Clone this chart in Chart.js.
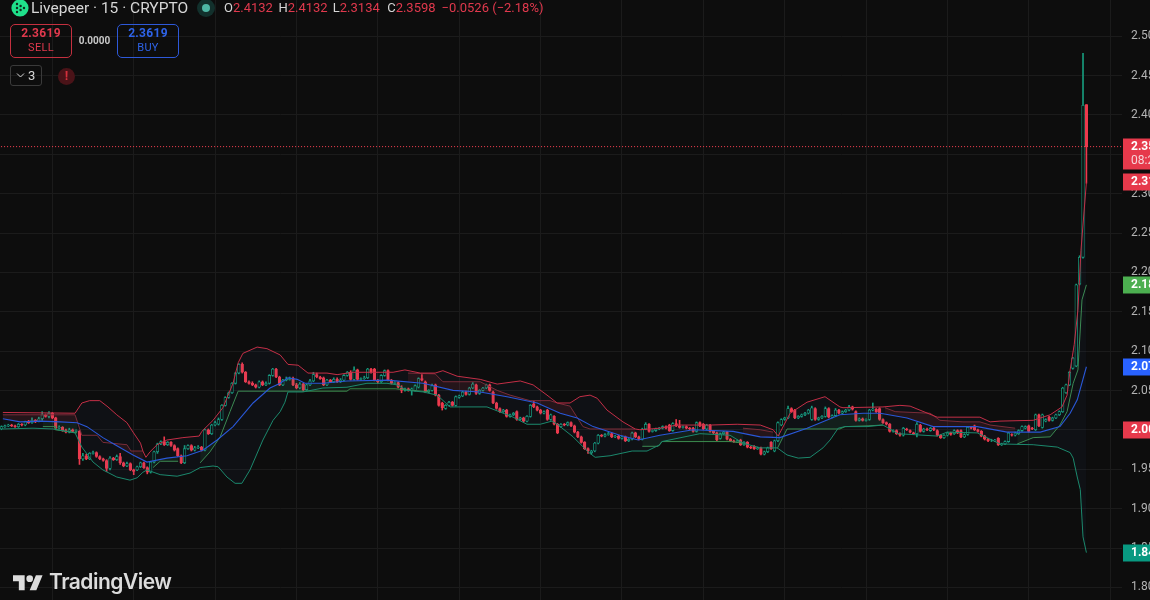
<!DOCTYPE html>
<html><head><meta charset="utf-8">
<script src="https://cdn.jsdelivr.net/npm/chart.js@4/dist/chart.umd.min.js"></script>
<style>
html,body{margin:0;padding:0;width:1150px;height:600px;overflow:hidden;background:#0d0d0d;}
#c{position:absolute;left:0;top:-10px;}
.o{position:absolute;white-space:nowrap;font-family:Roboto,sans-serif;}
.btn{box-sizing:border-box;border:1px solid;border-radius:5px;text-align:center;width:62px;height:34px;top:24px;}
.btn b{display:block;font-size:12px;line-height:13px;margin-top:2px;font-weight:700;letter-spacing:.3px}
.btn span{display:block;font-size:11px;line-height:15px;letter-spacing:.3px}
.g{display:inline-block;width:54.4px}
.r{color:#e0394d}
</style></head><body>
<canvas id="c" width="1150" height="610"></canvas>
<svg class="o" style="left:11px;top:-1px" width="18" height="18" viewBox="0 0 18 18"><circle cx="9" cy="9" r="8.6" fill="#1fe08a"/><g fill="#0f2b1e"><circle cx="6" cy="5" r="1.2"/><circle cx="6" cy="9" r="1.2"/><circle cx="6" cy="13" r="1.2"/><circle cx="9.6" cy="7" r="1.2"/><circle cx="9.6" cy="11" r="1.2"/><circle cx="13" cy="9" r="1.2"/></g></svg>
<div class="o" style="left:31px;top:-1px;font-size:15.5px;line-height:18px;color:#d6d6d6">Livepeer · 15 · CRYPTO</div>
<svg class="o" style="left:196px;top:-2px" width="20" height="20"><circle cx="10" cy="10" r="9" fill="#12302c"/><circle cx="10" cy="10" r="4" fill="#4db6a4"/></svg>
<div class="o" style="left:224px;top:0;font-size:13px;line-height:16px;color:#d6d6d6"><span class="g">O<span class="r">2.4132</span></span><span class="g">H<span class="r">2.4132</span></span><span class="g">L<span class="r">2.3134</span></span><span class="g">C<span class="r">2.3598</span></span><span class="r">−0.0526 (−2.18%)</span></div>
<div class="o btn" style="left:10px;border-color:#c4303f;color:#e0394d"><b>2.3619</b><span>SELL</span></div>
<div class="o" style="left:74px;top:35px;width:41px;text-align:center;font-size:10px;font-weight:700;line-height:12px;color:#c8c8c8">0.0000</div>
<div class="o btn" style="left:117px;border-color:#2e59d9;color:#2e63e8"><b>2.3619</b><span>BUY</span></div>
<div class="o" style="left:10px;top:65px;width:32px;height:21px;box-sizing:border-box;border:1px solid #3a3a3a;border-radius:3px;color:#d6d6d6;font-size:13px;line-height:19px;padding-left:17px">3<svg style="position:absolute;left:5px;top:6px" width="9" height="7"><path d="M1 1.5L4.5 5L8 1.5" stroke="#d6d6d6" fill="none"/></svg></div>
<div class="o" style="left:58px;top:68px;width:17px;height:17px;border-radius:50%;background:#4a1318;color:#d4303c;font-size:13px;font-weight:700;line-height:16px;text-align:center">!</div>
<svg class="o" style="left:13px;top:572px" width="30" height="20" viewBox="0 0 36 24"><path fill="#dcdcdc" d="M14 22H7V11H0V4h14v18zM28 22h-8l7.5-18h8L28 22z"/><circle cx="20" cy="8" r="4" fill="#dcdcdc"/></svg>
<div class="o" style="left:49px;top:569px;font-family:Inter,Roboto,sans-serif;font-size:21px;font-weight:600;line-height:26px;color:#dcdcdc;letter-spacing:-.5px">TradingView</div>
<script>
const opens=[
2.000,2.003,2.004,2.005,2.004,2.003,2.006,2.005,2.009,2.008,
2.011,2.010,2.013,2.018,2.016,2.020,2.014,2.001,2.002,1.998,
1.996,1.999,1.997,1.997,1.962,1.966,1.962,1.969,1.970,1.965,
1.962,1.960,1.950,1.963,1.961,1.965,1.957,1.953,1.956,1.948,
1.948,1.952,1.957,1.951,1.945,1.958,1.971,1.981,1.984,1.980,
1.983,1.979,1.975,1.966,1.957,1.975,1.979,1.973,1.976,1.977,
1.973,1.999,1.994,2.005,2.006,2.012,2.030,2.040,2.046,2.058,
2.071,2.082,2.072,2.060,2.058,2.056,2.053,2.060,2.056,2.058,
2.068,2.076,2.066,2.056,2.062,2.063,2.064,2.056,2.052,2.057,
2.050,2.056,2.061,2.069,2.066,2.065,2.056,2.062,2.060,2.063,
2.060,2.062,2.068,2.072,2.063,2.075,2.063,2.064,2.065,2.076,
2.076,2.062,2.060,2.068,2.074,2.062,2.058,2.059,2.052,2.049,
2.051,2.049,2.049,2.053,2.064,2.060,2.047,2.049,2.056,2.043,
2.033,2.026,2.030,2.034,2.030,2.040,2.042,2.047,2.044,2.052,
2.056,2.045,2.049,2.052,2.056,2.047,2.033,2.026,2.022,2.024,
2.016,2.018,2.022,2.012,2.014,2.010,2.016,2.032,2.028,2.024,
2.020,2.024,2.012,2.016,2.006,2.003,2.006,2.005,2.008,2.004,
1.996,1.990,1.983,1.975,1.970,1.972,1.982,1.992,1.991,1.993,
1.994,1.990,1.991,1.988,1.990,1.985,1.987,1.995,1.990,1.987,
2.000,2.006,1.997,1.998,2.000,2.001,2.003,2.005,1.998,2.007,
2.004,2.002,2.003,2.001,2.001,1.997,2.008,2.006,2.000,2.005,
1.997,1.995,1.988,1.994,1.996,1.987,1.985,1.984,1.986,1.980,
1.983,1.977,1.978,1.975,1.976,1.968,1.971,1.983,1.972,1.985,
2.005,2.012,2.014,2.026,2.024,2.014,2.016,2.018,2.020,2.012,
2.026,2.012,2.014,2.016,2.026,2.015,2.017,2.024,2.020,2.022,
2.024,2.028,2.022,2.011,2.013,2.011,2.012,2.024,2.025,2.026,
2.012,2.008,2.006,1.997,1.998,1.994,1.992,2.000,1.998,1.995,
1.994,2.005,1.997,2.000,1.998,2.001,1.998,1.992,1.989,1.992,
1.995,1.994,1.998,1.998,1.990,1.993,2.002,2.004,1.999,1.997,
1.991,1.987,1.985,1.985,1.988,1.980,1.981,1.984,1.993,1.992,
1.994,1.998,2.001,2.004,2.001,1.999,2.018,2.002,2.010,2.015,
2.011,2.014,2.018,2.022,2.046,2.056,2.077,2.080,2.184,2.218,
2.4119];
const closes=[
2.003,2.004,2.005,2.004,2.003,2.006,2.005,2.009,2.008,2.011,
2.010,2.013,2.018,2.016,2.020,2.014,2.001,2.002,1.998,1.996,
1.999,1.997,1.998,1.962,1.966,1.962,1.969,1.970,1.965,1.962,
1.960,1.950,1.963,1.961,1.965,1.957,1.953,1.956,1.948,1.946,
1.952,1.957,1.951,1.945,1.958,1.971,1.981,1.984,1.980,1.983,
1.979,1.973,1.966,1.957,1.975,1.979,1.973,1.976,1.977,1.973,
1.999,1.994,2.005,2.008,2.012,2.030,2.040,2.046,2.058,2.071,
2.082,2.072,2.060,2.058,2.056,2.053,2.060,2.056,2.058,2.068,
2.076,2.066,2.056,2.062,2.063,2.064,2.056,2.052,2.057,2.050,
2.056,2.061,2.069,2.066,2.064,2.056,2.062,2.060,2.063,2.060,
2.062,2.068,2.072,2.063,2.075,2.063,2.064,2.065,2.076,2.072,
2.062,2.060,2.068,2.074,2.062,2.058,2.059,2.053,2.049,2.051,
2.049,2.051,2.055,2.064,2.062,2.047,2.049,2.055,2.043,2.030,
2.027,2.030,2.034,2.030,2.041,2.042,2.047,2.044,2.052,2.057,
2.045,2.049,2.052,2.056,2.049,2.033,2.026,2.022,2.024,2.016,
2.018,2.020,2.012,2.014,2.010,2.016,2.030,2.028,2.024,2.020,
2.022,2.012,2.018,2.006,1.995,2.006,2.005,2.008,2.004,1.996,
1.990,1.983,1.975,1.972,1.972,1.982,1.992,1.991,1.993,1.994,
1.990,1.991,1.988,1.990,1.985,1.987,1.995,1.990,1.987,2.000,
2.006,1.997,1.998,2.000,2.001,2.003,2.001,1.998,2.007,2.004,
2.002,2.003,2.001,2.000,1.997,2.008,2.004,2.000,2.005,1.997,
1.995,1.986,1.994,1.996,1.987,1.985,1.984,1.985,1.980,1.983,
1.977,1.976,1.975,1.976,1.968,1.971,1.976,1.975,1.985,2.008,
2.012,2.014,2.026,2.022,2.014,2.016,2.018,2.020,2.024,2.027,
2.012,2.014,2.016,2.026,2.015,2.017,2.024,2.020,2.022,2.024,
2.028,2.025,2.011,2.013,2.011,2.012,2.024,2.025,2.022,2.012,
2.008,2.006,1.997,1.998,1.994,1.992,2.001,1.999,1.996,1.994,
2.006,1.997,2.000,1.999,2.001,1.999,1.992,1.989,1.992,1.995,
1.993,1.998,1.995,1.990,1.993,2.002,2.001,1.999,1.997,1.991,
1.987,1.985,1.985,1.986,1.980,1.981,1.984,1.995,1.992,1.995,
1.998,2.003,2.003,1.997,2.000,2.018,2.004,2.018,2.012,2.011,
2.014,2.018,2.022,2.052,2.056,2.072,2.090,2.183,2.218,2.411,
2.3585];
const highs=[
2.004,2.005,2.006,2.006,2.005,2.007,2.007,2.010,2.011,2.014,
2.012,2.015,2.022,2.019,2.022,2.021,2.015,2.004,2.003,2.000,
2.001,2.000,1.999,1.998,1.969,1.968,1.970,1.972,1.971,1.966,
1.963,1.961,1.965,1.964,1.967,1.969,1.958,1.958,1.957,1.949,
1.953,1.958,1.958,1.952,1.959,1.972,1.982,1.985,1.990,1.984,
1.984,1.980,1.976,1.967,1.979,1.980,1.980,1.978,1.979,1.978,
2.000,2.000,2.006,2.010,2.014,2.031,2.041,2.047,2.059,2.072,
2.083,2.084,2.073,2.061,2.060,2.057,2.061,2.061,2.060,2.069,
2.077,2.077,2.067,2.063,2.066,2.066,2.066,2.058,2.059,2.058,
2.057,2.063,2.072,2.071,2.067,2.066,2.063,2.063,2.065,2.065,
2.064,2.069,2.073,2.074,2.079,2.076,2.065,2.067,2.077,2.077,
2.077,2.063,2.069,2.075,2.075,2.063,2.060,2.060,2.055,2.052,
2.052,2.052,2.056,2.065,2.069,2.061,2.050,2.057,2.057,2.044,
2.034,2.031,2.035,2.035,2.042,2.043,2.048,2.048,2.053,2.059,
2.057,2.050,2.053,2.057,2.057,2.048,2.034,2.027,2.025,2.025,
2.019,2.021,2.023,2.015,2.015,2.017,2.031,2.035,2.029,2.025,
2.023,2.025,2.019,2.017,2.007,2.007,2.007,2.009,2.009,2.005,
1.997,1.991,1.984,1.976,1.973,1.983,1.993,1.993,1.994,1.996,
1.995,1.992,1.992,1.991,1.991,1.988,1.996,1.996,1.991,2.001,
2.008,2.007,1.999,2.001,2.002,2.004,2.004,2.006,2.008,2.012,
2.011,2.004,2.004,2.002,2.002,2.009,2.009,2.007,2.006,2.006,
1.998,1.996,1.995,1.997,1.997,1.988,1.986,1.986,1.987,1.984,
1.984,1.978,1.979,1.977,1.977,1.972,1.977,1.984,1.986,2.009,
2.013,2.015,2.029,2.027,2.025,2.017,2.019,2.021,2.025,2.029,
2.027,2.015,2.017,2.028,2.027,2.018,2.026,2.025,2.023,2.025,
2.030,2.029,2.023,2.014,2.014,2.013,2.025,2.033,2.026,2.027,
2.013,2.009,2.007,1.999,1.999,1.995,2.002,2.001,1.999,1.996,
2.008,2.006,2.001,2.001,2.002,2.002,1.999,1.993,1.993,1.996,
1.996,1.999,1.999,1.999,1.994,2.003,2.003,2.005,2.000,1.998,
1.992,1.988,1.987,1.987,1.989,1.982,1.985,1.996,1.994,1.996,
1.999,2.004,2.004,2.005,2.002,2.019,2.019,2.019,2.013,2.016,
2.015,2.019,2.023,2.053,2.057,2.073,2.091,2.184,2.220,2.477,
2.4119];
const lows=[
1.999,2.002,2.003,2.003,2.002,2.002,2.004,2.004,2.007,2.007,
2.008,2.009,2.011,2.015,2.014,2.013,1.999,2.000,1.997,1.995,
1.995,1.996,1.996,1.955,1.960,1.961,1.961,1.968,1.964,1.961,
1.959,1.946,1.948,1.960,1.960,1.955,1.952,1.952,1.947,1.942,
1.947,1.951,1.950,1.943,1.944,1.957,1.969,1.980,1.979,1.979,
1.978,1.972,1.965,1.956,1.956,1.974,1.972,1.972,1.975,1.972,
1.972,1.993,1.993,2.004,2.005,2.011,2.029,2.039,2.045,2.057,
2.070,2.071,2.059,2.057,2.055,2.052,2.052,2.055,2.055,2.057,
2.067,2.065,2.055,2.055,2.061,2.062,2.055,2.051,2.051,2.048,
2.049,2.055,2.060,2.065,2.063,2.055,2.055,2.059,2.059,2.059,
2.059,2.061,2.067,2.062,2.062,2.062,2.062,2.063,2.064,2.071,
2.061,2.058,2.059,2.067,2.061,2.057,2.057,2.052,2.046,2.048,
2.048,2.043,2.048,2.052,2.061,2.046,2.046,2.048,2.042,2.029,
2.024,2.025,2.029,2.029,2.029,2.039,2.041,2.043,2.043,2.051,
2.044,2.044,2.048,2.051,2.048,2.032,2.025,2.021,2.021,2.015,
2.015,2.017,2.011,2.011,2.009,2.009,2.015,2.027,2.023,2.019,
2.019,2.011,2.011,2.005,1.994,2.002,2.004,2.004,2.003,1.995,
1.989,1.982,1.974,1.969,1.968,1.971,1.981,1.990,1.990,1.992,
1.989,1.989,1.987,1.987,1.984,1.984,1.986,1.989,1.986,1.986,
1.999,1.996,1.996,1.997,1.999,2.000,2.000,1.997,1.997,2.003,
2.001,2.001,2.000,1.999,1.996,1.996,2.003,1.999,1.999,1.996,
1.994,1.985,1.987,1.993,1.986,1.984,1.983,1.983,1.979,1.979,
1.976,1.975,1.974,1.974,1.967,1.967,1.970,1.974,1.971,1.984,
2.004,2.011,2.013,2.021,2.013,2.013,2.015,2.017,2.019,2.011,
2.011,2.011,2.013,2.015,2.014,2.014,2.016,2.019,2.019,2.021,
2.023,2.024,2.010,2.010,2.010,2.010,2.011,2.023,2.021,2.011,
2.007,2.005,1.996,1.996,1.993,1.991,1.991,1.998,1.995,1.993,
1.990,1.996,1.996,1.998,1.997,1.998,1.991,1.988,1.988,1.991,
1.992,1.993,1.994,1.989,1.989,1.992,2.000,1.998,1.996,1.990,
1.986,1.984,1.984,1.984,1.979,1.979,1.980,1.983,1.991,1.991,
1.993,1.997,2.000,1.996,1.999,1.998,2.003,2.001,2.009,2.010,
2.010,2.013,2.017,2.021,2.045,2.055,2.076,2.079,2.183,2.217,
2.3121];

const upperBars=[0.4,21.7,23.7,26,29,31.4,34,37,38.8,41,41.7,42.6,43.8,45.9,48.8,53.5,58.3,59.1,62.4,65.3,68.3,69.8,71.2,75.4,78.3,82.2,84.5,87.5,90.4,96,99,103.7,115.5,119,123.5,127.9,130.2,134.4,141.2,146.2,153,156.8,160.9,163.9,167.7,170.6,173.6,175.7,178.6,183.3,186.9,188.3,194.2,199.3,209,217,223.8,227.6,229.1,232.6,237.6,242.9,247.3,248.2,260,265,268,276,288.6,291.6,294.5,304.3,309.3,312.8,314.3,315.2,316.4,317.5,318.4,320];
const upperVals=[2.021,2.020,2.033,2.036,2.036,2.028,2.018,2.008,1.996,1.982,1.972,1.964,1.971,1.980,1.986,1.989,1.991,1.997,2.011,2.027,2.058,2.084,2.096,2.104,2.102,2.094,2.082,2.081,2.071,2.071,2.069,2.072,2.072,2.075,2.071,2.071,2.074,2.067,2.063,2.057,2.061,2.056,2.043,2.033,2.033,2.041,2.043,2.039,2.024,2.009,2.000,1.999,2.001,2.005,2.005,2.006,2.005,1.999,1.991,2.020,2.034,2.041,2.028,2.027,2.028,2.030,2.029,2.015,2.015,2.009,2.010,2.011,2.018,2.028,2.043,2.075,2.107,2.151,2.227,2.313];
const lowerBars=[0.4,9.3,15.2,21.7,23.7,27,29.9,34,37.9,40,41.7,42.9,46.8,51.8,55.6,58.6,62.4,63.9,66.5,68.9,70.9,73.3,77.1,80.1,82.2,83.6,84.5,88.9,94.8,101.9,107.8,113.7,116.7,119.6,124.3,128.5,132.3,143.2,146.2,150.9,155,158.9,162.4,164.2,168.6,173,175.1,179.5,186,190.4,194.2,194.8,206,214.9,218.7,223.8,228.8,231.7,235,238.5,242.3,244.4,246.8,248.8,255.3,260,264.4,276,278.9,287.8,294.5,304.3,311.4,315.2,316.1,317.3,318.2,319,320];
const lowerVals=[2.000,2.001,2.000,1.995,1.977,1.958,1.948,1.939,1.935,1.938,1.945,1.948,1.942,1.940,1.944,1.951,1.953,1.952,1.939,1.931,1.931,1.948,1.986,2.011,2.022,2.034,2.047,2.047,2.052,2.053,2.058,2.058,2.056,2.049,2.047,2.043,2.028,2.028,2.023,2.015,2.006,2.006,2.010,2.005,1.990,1.971,1.964,1.966,1.972,1.972,1.980,1.984,1.994,1.992,1.982,1.976,1.976,1.967,1.963,1.964,1.976,1.986,2.001,2.003,2.003,2.005,1.994,1.991,1.996,1.995,1.981,1.980,1.977,1.970,1.963,1.939,1.923,1.863,1.843];
const basisBars=[0.4,5.5,11.4,17.3,22.3,25.2,29.9,33.5,38.8,42.9,48.8,54.7,59.4,63.6,68.3,74.2,79.2,82.2,84.5,87.2,89.5,94.8,101.9,113.7,124.3,133.2,141.2,149.1,158,164.8,169.8,174.5,182.4,187.8,194.2,204,215.8,223.8,229.6,237.6,247.3,254.1,259.2,267.1,274.8,287.8,296.6,306.4,312.2,315.2,317.3,320];
const basisVals=[2.013,2.009,2.010,2.009,2.008,2.003,1.989,1.980,1.967,1.958,1.963,1.966,1.973,1.986,2.003,2.033,2.052,2.058,2.065,2.063,2.058,2.058,2.061,2.062,2.058,2.049,2.047,2.041,2.033,2.020,2.014,2.003,1.992,1.986,1.992,1.999,1.997,1.990,1.989,2.001,2.018,2.020,2.020,2.014,2.003,2.003,1.996,1.996,2.003,2.020,2.037,2.079];
const stepUpperBars=[0.4,21.7,23.7,28.2,29.9,37,38.2,41.7,42,119.9,127.9,130.2,141.2,146.2,150,155.9,161.8,163.9,167.7,171.5,173.6,186.9,187,218.7,223.8,227.6,228,260.6,263.6,273.9,276.8,283.6,288.6,291.6,299];
const stepUpperVals=[2.018,2.018,1.992,1.992,1.983,1.980,1.972,1.972,null,2.071,2.070,2.060,2.060,2.049,2.043,2.036,2.036,2.033,2.029,2.003,2.000,2.000,null,2.001,1.999,1.996,null,2.027,2.022,2.020,2.011,2.009,2.009,2.005,2.001];
const stepLowerBars=[12.2,15.8,15.9,22.3,23,44.7,46.8,52.1,53,58.6,61.5,64.5,67.4,69.8,101.9,102.8,116.1,126.4,127,189,193.7,194.8,214.9,218.7,219,228.8,231.7,247.3,248.8,255.6,260,261,299.6,304.3,309.3,312.2,314.3,316.1,317.5,318.7,320];
const stepLowerVals=[2.003,2.003,1.999,1.995,null,1.951,1.959,1.959,null,1.957,1.971,1.990,2.022,2.048,2.048,2.051,2.051,2.047,null,1.978,1.978,1.984,1.984,1.982,null,1.975,2.000,2.000,2.003,2.004,2.005,null,1.981,1.989,1.990,2.005,2.022,2.058,2.075,2.164,2.183];

const yTickValues=[2.55,2.50,2.45,2.40,2.35,2.30,2.25,2.20,2.15,2.10,2.05,2.00,1.95,1.90,1.85,1.80];
const xGridBars=[15,39,63,87,111,135,159,183,207,231,255,279,303,327];
const lastPrice=2.3598;
const tagValues=[2.3598,2.3149,2.1841,2.080,2.0006,1.8438];
const tagLabels=["2.35","2.31","2.18","2.07","2.00","1.84"];
const tagColors=["#e6394b","#e6394b","#4caf50","#2962ff","#e6394b","#089981"];
const countdownLabel="08:2";

// every figure above was read against a ruler one pixel too high on this axis
const readOffset=0.00127;
const cal=v=>v===null?null:v+readOffset;
const UP="#169a7c",DOWN="#ec3a4d";
const pts=(xs,ys)=>xs.map((x,i)=>({x,y:cal(ys[i])}));
const idx=opens.map((_,i)=>i);
const isUp=i=>closes[i]>=opens[i];
const lineDs=(xs,ys,color,w,extra)=>Object.assign({type:'line',data:pts(xs,ys),borderColor:color,borderWidth:w,pointRadius:0,tension:0,fill:false,spanGaps:false},extra||{});

const tagPlugin={id:'tags',afterDraw(ch){
  const y=ch.scales.y,c=ch.ctx;c.save();
  c.font='700 12px Roboto, sans-serif';c.textBaseline='middle';c.textAlign='left';
  tagValues.forEach((v,i)=>{
    const p=Math.round(y.getPixelForValue(v));
    const two=i===0;
    const top=p-8.5,h=two?31:17;
    c.fillStyle=tagColors[i];c.fillRect(1123,top,27,h);
    c.fillStyle='#ffffff';c.fillText(tagLabels[i],1131,p);
    if(two){c.font='400 12px Roboto, sans-serif';c.fillStyle='#f6d6da';c.fillText(countdownLabel,1131,p+14);c.font='700 12px Roboto, sans-serif';}
  });
  c.restore();
}};

new Chart(document.getElementById('c'),{
  data:{datasets:[
    lineDs(basisBars,basisVals,'#2a58d8',1.1,{order:1}),
    lineDs(upperBars,upperVals,'#c42f47',1,{order:2,fill:{target:3,above:'rgba(70,120,220,0.045)',below:'rgba(70,120,220,0.045)'}}),
    lineDs(stepUpperBars,stepUpperVals,'#7c2a33',1,{order:2,fill:{target:0,above:'rgba(242,54,69,0.10)',below:'rgba(242,54,69,0.0)'}}),
    lineDs(lowerBars,lowerVals,'#1c8a6c',1,{order:2}),
    lineDs(stepLowerBars,stepLowerVals,'#3c8c4e',1,{order:2,fill:{target:0,above:'rgba(60,160,90,0.0)',below:'rgba(60,160,90,0.10)'}}),
    {type:'line',data:[{x:-1,y:lastPrice},{x:331,y:lastPrice}],borderColor:'#ff4455',borderWidth:1,pointRadius:0,fill:false,order:0,borderDash:[1,2]},
    {type:'bar',order:4,grouped:false,barThickness:1,data:idx.map(i=>({x:i,y:[cal(lows[i]),cal(highs[i])]})),backgroundColor:idx.map(i=>isUp(i)?UP:DOWN),borderWidth:0},
    {type:'bar',order:3,grouped:false,barThickness:2.7,data:idx.map(i=>({x:i,y:[cal(opens[i]),cal(closes[i])]})),backgroundColor:idx.map(i=>isUp(i)?'#0d0d0d':DOWN),borderColor:idx.map(i=>isUp(i)?UP:DOWN),borderWidth:0.8,borderSkipped:false}
  ]},
  options:{
    responsive:false,animation:false,devicePixelRatio:1,
    layout:{padding:0},
    plugins:{legend:{display:false},tooltip:{enabled:false}},
    scales:{
      x:{type:'linear',offset:false,min:-0.442,max:330.5,
        afterBuildTicks:s=>{s.ticks=xGridBars.map(v=>({value:v}));},
        afterFit:s=>{s.height=0;s.paddingLeft=0;s.paddingRight=0;},
        ticks:{display:false},border:{display:false},grid:{offset:false,color:'#1b1b1b',lineWidth:1,drawTicks:false}},
      y:{type:'linear',position:'right',min:1.7841,max:2.5587,
        afterFit:s=>{s.width=28;s.paddingTop=0;s.paddingBottom=0;},
        afterBuildTicks:s=>{s.ticks=yTickValues.map(v=>({value:v}));},
        ticks:{autoSkip:false,padding:9,color:'#b4b4b4',font:{family:'Roboto, sans-serif',size:12},callback:v=>Number(v).toFixed(2)},
        border:{display:false},grid:{color:'#1b1b1b',lineWidth:1,drawTicks:false}}
    }
  },
  plugins:[tagPlugin]
});
</script>
</body></html>
